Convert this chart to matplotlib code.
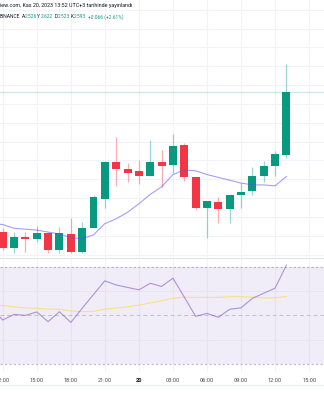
import matplotlib.pyplot as plt
from matplotlib.lines import Line2D

plt.rcParams['font.family'] = ['Roboto', 'DejaVu Sans']

# hourly candles, hour counted from 19 Nov 00:00 (the 11:00 bar sits just off the left edge)
hours = [11, 12, 13, 14, 15, 16, 17, 18, 19, 20, 21, 22, 23, 24,
         25, 26, 27, 28, 29, 30, 31, 32, 33, 34, 35, 36, 37]
opens = [2.450, 2.444, 2.427, 2.439, 2.437, 2.443, 2.425, 2.442, 2.423, 2.448,
         2.479, 2.518, 2.511, 2.509, 2.503, 2.518, 2.515, 2.536, 2.502, 2.470,
         2.476, 2.468, 2.483, 2.488, 2.504, 2.514, 2.526]
highs = [2.455, 2.448, 2.444, 2.444, 2.450, 2.444, 2.449, 2.459, 2.455, 2.483,
         2.519, 2.545, 2.517, 2.520, 2.542, 2.531, 2.548, 2.538, 2.502, 2.477,
         2.481, 2.484, 2.496, 2.513, 2.519, 2.530, 2.622]
lows = [2.440, 2.425, 2.422, 2.423, 2.433, 2.422, 2.422, 2.422, 2.422, 2.448,
        2.469, 2.493, 2.497, 2.495, 2.503, 2.492, 2.507, 2.498, 2.467, 2.438,
        2.454, 2.454, 2.470, 2.483, 2.497, 2.503, 2.523]
closes = [2.444, 2.427, 2.439, 2.437, 2.443, 2.425, 2.443, 2.423, 2.448, 2.481,
          2.518, 2.511, 2.507, 2.503, 2.518, 2.514, 2.535, 2.502, 2.470, 2.477,
          2.468, 2.483, 2.487, 2.504, 2.514, 2.527, 2.593]
ma = [2.453, 2.452, 2.448, 2.447, 2.446, 2.444, 2.442, 2.438, 2.437, 2.441,
      2.453, 2.458, 2.465, 2.474, 2.484, 2.492, 2.505, 2.510, 2.509, 2.505,
      2.502, 2.499, 2.496, 2.494, 2.494, 2.493, 2.503]
rsi = [53.0, 48.1, 50.4, 50.0, 51.4, 47.4, 51.5, 47.1, 52.9, 58.6,
       64.2, 62.5, 61.5, 60.5, 63.2, 61.9, 65.3, 57.5, 49.6, 50.8,
       49.2, 52.5, 53.1, 57.0, 59.1, 61.2, 70.7]
rsi_ma = [54.4, 54.0, 53.5, 53.1, 52.9, 52.6, 52.5, 51.8, 51.5, 51.6,
          52.6, 53.0, 53.5, 54.2, 55.1, 56.0, 57.0, 57.5, 57.4, 57.4,
          57.4, 57.7, 57.7, 57.5, 57.2, 57.2, 57.8]

tick_hours = [12, 15, 18, 21, 24, 27, 30, 33, 36, 39]
tick_labels = ['12:00', '15:00', '18:00', '21:00', '20', '03:00',
               '06:00', '09:00', '12:00', '15:00']

UP = '#089981'
DOWN = '#f23645'
GRID = '#f0f3fa'
W, H = 324, 400

fig = plt.figure(figsize=(W / 100, H / 100), dpi=100)
ax = fig.add_axes([0, 1 - 257 / H, 1, 257 / H])
ax2 = fig.add_axes([0, 1 - 372 / H, 1, (372 - 258) / H], sharex=ax)

xlim = (11.76, 40.31)

# price pane
for h in tick_hours:
    ax.axvline(h, color=GRID, lw=0.8, zorder=0)
    ax2.axvline(h, color=GRID, lw=0.8, zorder=0)
for p in [2.42 + 0.02 * k for k in range(14)]:
    ax.axhline(p, color=GRID, lw=0.8, zorder=0)

ax.axhline(closes[-1], color=UP, alpha=0.2, lw=1, zorder=1)

for h, o, hi, lo, c in zip(hours, opens, highs, lows, closes):
    col = UP if c >= o else DOWN
    ax.vlines(h, lo, hi, color=col, alpha=0.4, lw=0.9, zorder=2)
    ax.bar(h, abs(c - o), width=0.7, bottom=min(o, c), color=col, zorder=3)

ax.plot(hours, ma, color='#5b50f0', alpha=0.55, lw=0.8, zorder=4)

ax.set_xlim(*xlim)
ax.set_ylim(2.4175, 2.6903)
ax.axis('off')

# RSI pane
ax2.axhspan(30, 70, color='#7e57c2', alpha=0.1, lw=0, zorder=0)
for lvl in [40, 60]:
    ax2.axhline(lvl, color='#e6e2f0', lw=0.6, zorder=0)
for lvl in [70, 30]:
    ax2.axhline(lvl, color='#787b86', alpha=0.5, lw=0.8, ls=(0, (2, 2)), zorder=1)
ax2.axhline(50, color='#787b86', alpha=0.4, lw=0.7, ls=(0, (4, 3)), zorder=1)
ax2.plot(hours, rsi_ma, color='#fdd835', alpha=0.6, lw=0.8, zorder=2)
ax2.plot(hours, rsi, color='#7e57c2', alpha=0.6, lw=0.8, zorder=3)
ax2.set_ylim(26.7, 73.6)
ax2.set_xlim(*xlim)
for s in ax2.spines.values():
    s.set_visible(False)
ax2.set_yticks([])
ax2.set_xticks(tick_hours)
ax2.set_xticklabels(tick_labels)
ax2.tick_params(axis='x', length=0, pad=4.3, labelsize=4.1, labelcolor='#4a4d57')
for lab in ax2.get_xticklabels():
    if lab.get_text() == '20':
        lab.set_fontweight('bold')
        lab.set_color('#131722')

# pane separator and time axis border
fig.add_artist(Line2D([0, 1], [1 - 257.5 / H] * 2, color='#e0e3eb', lw=0.8))
fig.add_artist(Line2D([0, 1], [1 - 385 / H] * 2, color='#eceef3', lw=0.8))

# header legend
fs = 3.9
fig.text(0 / W, 1 - 6 / H, 'iew.com, Kas 20, 2023 13:52 UTC+3 tarihinde yayınlandı',
         fontsize=fs, color='#131722', va='center', ha='left')
fs2 = 3.5
y2 = 1 - 17 / H
fig.text(19.5 / W, y2, 'BINANCE', fontsize=fs2, color='#131722', va='center', ha='right')
legend_items = [(21.5, 'A', '2.526'), (37.3, 'Y', '2.622'),
                (54.3, 'D', '2.523'), (70.8, 'K', '2.593')]
for x, key, val in legend_items:
    fig.text(x / W, y2, key, fontsize=fs2, color='#131722', va='center')
    fig.text((x + 3.3) / W, y2, val, fontsize=fs2, color=UP, va='center')
fig.text(87.7 / W, y2, '+0.066 (+2.61%)', fontsize=fs2, color=UP, va='center')

fig.savefig('out.png', dpi=100)
